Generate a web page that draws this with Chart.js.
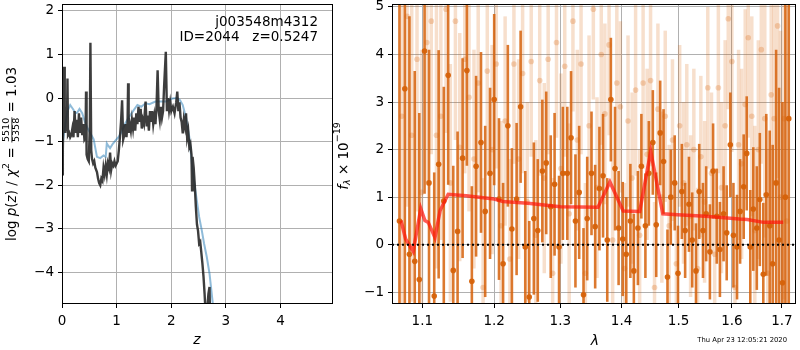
<!DOCTYPE html>
<html>
<head>
<meta charset="utf-8">
<script src="https://cdn.jsdelivr.net/npm/chart.js@4.4.1/dist/chart.umd.min.js"></script>
<style>
  html, body { margin: 0; padding: 0; background: #fff; }
  #wrap { position: relative; width: 800px; height: 350px; }
  #pzBox { position: absolute; left: 0; top: 0; width: 340px; height: 350px; }
  #specBox { position: absolute; left: 330px; top: 0; width: 470px; height: 350px; }
</style>
</head>
<body>
<div id="wrap">
  <div id="pzBox"><canvas id="pzChart"></canvas></div>
  <div id="specBox"><canvas id="specChart"></canvas></div>
</div>
<script>
// --- DATA: p(z) panel ---
const zTicks = [0, 1, 2, 3, 4];
const logpTicks = [-4, -3, -2, -1, 0, 1, 2];

const pzGridZ = [0.00, 0.015, 0.03, 0.04, 0.05, 0.06, 0.075, 0.09, 0.10, 0.11, 0.13, 0.15, 0.17, 0.19, 0.21, 0.23, 0.25, 0.27, 0.29, 0.31,
  0.33, 0.35, 0.37, 0.39, 0.41, 0.43, 0.44, 0.45, 0.47, 0.49, 0.51, 0.52, 0.535, 0.55, 0.57, 0.59, 0.61, 0.64, 0.66, 0.68,
  0.70, 0.72, 0.74, 0.76, 0.78, 0.80, 0.82, 0.84, 0.86, 0.88, 0.90, 0.92, 0.94, 0.96, 0.98, 1.00, 1.02, 1.04, 1.06, 1.08,
  1.10, 1.12, 1.14, 1.16, 1.18, 1.20, 1.21, 1.22, 1.24, 1.26, 1.28, 1.30, 1.32, 1.34, 1.36, 1.38, 1.40, 1.42, 1.44, 1.46,
  1.48, 1.50, 1.53, 1.55, 1.57, 1.59, 1.61, 1.63, 1.65, 1.67, 1.69, 1.71, 1.73, 1.75, 1.77, 1.79, 1.81, 1.83, 1.85, 1.87,
  1.90, 1.92, 1.94, 1.96, 1.98, 2.00, 2.03, 2.06, 2.09, 2.11, 2.13, 2.15, 2.17, 2.19, 2.21, 2.23, 2.25, 2.27, 2.29, 2.31,
  2.33, 2.35, 2.37, 2.38, 2.39, 2.41, 2.43, 2.45, 2.47, 2.49, 2.51, 2.53, 2.55, 2.57, 2.59, 2.61, 2.63, 2.66, 2.68, 2.70,
  2.71, 2.73];
const pzLogp = [-1.75, -1.2, 0.0, 0.72, -0.2, -0.8, -0.6, -0.75, 0.45, -0.85, -0.8, -0.9, -0.85, -0.7, -0.9, -0.3, -0.8, -0.5, -0.9, -0.35,
  -0.8, -0.45, -0.85, -0.6, -0.95, -0.9, 0.15, -1.3, -1.4, -1.45, -0.6, 1.27, -1.2, -1.4, -1.5, -1.45, -1.6, -1.7, -1.85, -1.95,
  -2.0, -1.85, -1.9, -1.6, -1.75, -1.55, -1.75, -1.5, -1.6, -1.25, -1.65, -1.5, -1.55, -1.45, -1.55, -1.5, -1.45, -1.2, -0.9, -0.55,
  -0.05, -0.95, -0.85, -0.6, -0.9, -0.55, 0.34, -0.8, -0.6, -0.75, -0.5, -0.7, -0.45, -0.75, -0.35, -0.6, -0.2, -0.55, -0.25, -0.7,
  -0.5, -0.6, -0.08, -0.65, -0.4, -0.75, -0.3, -0.55, -0.3, -0.6, -0.4, -0.6, -0.2, 0.64, -0.3, -0.5, -0.2, -0.45, -0.3, 0.3,
  1.06, -0.3, 0.0, -0.28, -0.1, -0.3, -0.2, -0.35, -0.1, 0.15, -0.3, -0.1, -0.45, -0.55, -0.81, -0.5, -0.65, -0.35, -0.9, -0.75,
  -1.12, -1.05, -1.3, -2.12, -1.35, -1.6, -2.0, -2.5, -2.9, -3.05, -3.34, -3.3, -3.55, -3.8, -4.1, -4.5, -5.0, -4.8, -4.5, -4.34,
  -5.0, -5.5];

const priorZ = [0.00, 0.02, 0.06, 0.10, 0.15, 0.20, 0.25, 0.28, 0.32, 0.37, 0.42, 0.47, 0.52, 0.58, 0.64, 0.70, 0.76, 0.80, 0.82, 0.85,
  0.88, 0.93, 0.98, 1.04, 1.10, 1.16, 1.22, 1.30, 1.38, 1.45, 1.53, 1.60, 1.71, 1.80, 1.90, 2.02, 2.11, 2.16, 2.21, 2.27,
  2.33, 2.39, 2.45, 2.51, 2.56, 2.60, 2.65, 2.70, 2.76, 2.80];
const priorLogp = [-1.0, -0.97, -0.6, -0.3, -0.16, -0.25, -0.35, -0.33, -0.25, -0.35, -0.55, -0.7, -0.81, -0.95, -1.35, -1.38, -1.32, -1.35, -1.04, -1.1,
  -1.15, -1.05, -0.97, -0.89, -0.75, -0.58, -0.45, -0.3, -0.16, -0.2, -0.12, -0.14, -0.08, -0.08, -0.08, -0.01, 0.0, -0.05, -0.16, -0.45,
  -0.89, -1.66, -2.2, -2.73, -3.05, -3.34, -3.65, -4.03, -4.72, -5.2];

// --- DATA: spectrum panel ---
const waveTicks = [1.1, 1.2, 1.3, 1.4, 1.5, 1.6, 1.7];
const fluxTicks = [-1, 0, 1, 2, 3, 4, 5];

const darkWave = [1.070, 1.077, 1.083, 1.090, 1.096, 1.103, 1.109, 1.116, 1.122, 1.129,
  1.135, 1.142, 1.148, 1.155, 1.161, 1.168, 1.174, 1.181, 1.187, 1.194,
  1.200, 1.207, 1.213, 1.220, 1.226, 1.233, 1.239, 1.246, 1.252, 1.259,
  1.265, 1.272, 1.278, 1.285, 1.291, 1.298, 1.304, 1.311, 1.317, 1.324,
  1.330, 1.337, 1.343, 1.350, 1.356, 1.363, 1.369, 1.376, 1.382, 1.389,
  1.395, 1.402, 1.408, 1.415, 1.421, 1.428, 1.434, 1.441, 1.447, 1.454,
  1.460, 1.467, 1.473, 1.480, 1.486, 1.493, 1.499, 1.506, 1.512, 1.519,
  1.525, 1.532, 1.538, 1.545, 1.551, 1.558, 1.564, 1.571, 1.577, 1.584,
  1.590, 1.597, 1.603, 1.610, 1.616, 1.623, 1.629, 1.636, 1.642, 1.649,
  1.655, 1.662, 1.668, 1.675, 1.681, 1.688, 1.694, 1.701, 1.707, 1.714];
const darkFlux = [0.5, 3.28, -0.2, -0.35, -0.73, 4.07, 1.3, -1.08, 1.69, 0.92,
  3.56, -0.54, 0.28, 1.82, 3.66, -0.77, 1.65, 2.15, 0.7, 1.5,
  3.05, 0.96, -0.4, 2.5, 0.33, 0.96, 2.9, -0.05, -1.1, 0.55,
  0.3, 1.55, 1.72, 0.8, 1.27, -0.05, 1.5, 1.5, 2.25, 0.5,
  1.1, -1.05, 0.55, 1.5, 0.38, 1.18, 1.45, 0.1, 3.05, 1.6,
  0.35, 0.12, -0.2, 0.5, -0.55, 0.35, 1.65, 0.4, 1.5, 2.15,
  0.42, 2.35, 1.75, -0.68, 1.0, 1.3, -0.6, 1.12, 0.3, 0.85,
  0.1, -0.55, 1.12, 0.3, 0.65, -0.15, 1.55, 0.6, -0.1, 0.65,
  0.25, 2.1, 0.2, -0.05, 0.7, 1.22, 1.92, -0.05, 0.75, 0.35,
  0.95, -0.62, 1.05, 0.4, -0.4, 1.3, 0.1, -0.8, 1.0, 2.65];
const darkErr = [6, 5, 5, 4, 3.5, 3, 2.8, 2.6, 2.4, 2.4,
  2.3, 2.2, 2.1, 2.1, 2.0, 2.0, 1.9, 1.9, 1.8, 1.8,
  1.8, 1.7, 1.7, 1.7, 1.7, 1.6, 1.6, 1.6, 1.6, 1.6,
  1.5, 1.5, 1.5, 1.5, 1.5, 1.5, 1.4, 1.4, 1.4, 1.4,
  1.4, 1.4, 1.3, 1.3, 1.3, 1.3, 1.3, 1.3, 1.3, 1.3,
  1.2, 1.2, 1.2, 1.2, 1.2, 1.2, 1.1, 1.1, 1.1, 1.1,
  1.1, 1.1, 1.1, 1.0, 1.0, 1.0, 1.0, 1.0, 1.0, 1.0,
  1.0, 1.0, 1.0, 1.0, 1.0, 1.0, 1.0, 1.0, 1.0, 1.0,
  1.0, 1.1, 1.1, 1.1, 1.1, 1.1, 1.2, 1.2, 1.3, 1.3,
  1.4, 1.5, 1.7, 2.0, 2.5, 2.8, 3.2, 3.8, 4.5, 6];

const lightWave = [1.073, 1.080, 1.086, 1.093, 1.099, 1.106, 1.112, 1.119, 1.125, 1.132,
  1.138, 1.145, 1.151, 1.158, 1.164, 1.171, 1.177, 1.184, 1.190, 1.197,
  1.203, 1.210, 1.216, 1.223, 1.229, 1.236, 1.242, 1.249, 1.255, 1.262,
  1.268, 1.275, 1.281, 1.288, 1.294, 1.301, 1.307, 1.314, 1.320, 1.327,
  1.333, 1.340, 1.346, 1.353, 1.359, 1.366, 1.372, 1.379, 1.385, 1.392,
  1.398, 1.405, 1.411, 1.418, 1.424, 1.431, 1.437, 1.444, 1.450, 1.457,
  1.463, 1.470, 1.476, 1.483, 1.489, 1.496, 1.502, 1.509, 1.515, 1.522,
  1.528, 1.535, 1.541, 1.548, 1.554, 1.561, 1.567, 1.574, 1.580, 1.587,
  1.593, 1.600, 1.606, 1.613, 1.619, 1.626, 1.632, 1.639, 1.645, 1.652,
  1.658, 1.665, 1.671, 1.678, 1.684, 1.691, 1.697, 1.704, 1.710];
const lightFlux = [2.7, 4.8, 2.3, 3.9, 1.1, 4.25, 4.7, 2.3, 2.7, 4.95,
  1.3, 4.7, 2.05, 3.9, 3.1, 1.8, 3.4, -0.9, 3.65, 2.0,
  3.8, 0.4, 2.6, -0.3, 3.8, 1.8, 3.6, 0.9, 3.85, 0.2,
  3.45, 1.4, 3.9, -0.6, 4.25, 1.6, 3.75, 0.65, 4.7, 2.2,
  3.8, -0.6, 2.5, 4.95, 1.2, 4.0, 2.75, 4.2, 0.1, 3.4,
  2.9, -0.5, 2.6, 1.4, 3.25, 0.2, 3.4, 1.9, 3.45, -0.9,
  2.85, 1.0, 2.7, 0.4, 2.2, -0.4, 2.5, 1.3, 2.1, 0.6,
  2.0, -0.5, 1.85, 0.9, 3.3, 1.5, -0.2, 3.3, 1.2, 2.5,
  4.75, 3.85, -0.9, 2.1, 1.7, 2.95, 4.35, 2.7, 0.3, 2.0,
  4.1, 2.65, -0.6, 3.15, 2.65, 4.6, 1.0, 2.65, 0.5];
const lightErr = [4, 4, 3.5, 3.2, 3.0, 3.0, 2.8, 2.8, 2.6, 2.6,
  2.5, 2.5, 2.4, 2.4, 2.4, 2.3, 2.3, 2.3, 2.2, 2.2,
  2.2, 2.2, 2.2, 2.1, 2.1, 2.1, 2.1, 2.1, 2.0, 2.0,
  2.0, 2.0, 2.0, 2.0, 2.0, 2.0, 1.9, 1.9, 1.9, 1.9,
  1.9, 1.9, 1.9, 1.9, 1.9, 1.9, 1.9, 1.9, 1.9, 1.8,
  1.8, 1.8, 1.8, 1.8, 1.8, 1.8, 1.8, 1.8, 1.8, 1.8,
  1.8, 1.8, 1.8, 1.7, 1.7, 1.7, 1.7, 1.7, 1.7, 1.7,
  1.7, 1.7, 1.7, 1.7, 1.7, 1.7, 1.8, 1.8, 1.8, 1.8,
  1.9, 1.9, 1.9, 2.0, 2.0, 2.0, 2.1, 2.1, 2.2, 2.3,
  2.4, 2.5, 2.6, 2.8, 3.0, 3.2, 3.5, 3.8, 4.5];

const modelWave = [1.072, 1.078, 1.088, 1.098, 1.1035, 1.108, 1.117, 1.124, 1.135, 1.16, 1.20, 1.2125, 1.25, 1.30, 1.3606,
  1.3804, 1.4028, 1.4311, 1.4503, 1.4717, 1.498, 1.55, 1.6148, 1.63, 1.6624, 1.7026];
const modelFlux = [0.51, 0.12, -0.14, 0.76, 0.51, 0.47, 0.15, 0.72, 1.06, 1.03, 0.96, 0.91, 0.87, 0.80, 0.79,
  1.32, 0.71, 0.70, 1.96, 0.65, 0.63, 0.60, 0.54, 0.53, 0.47, 0.47];

const zeroWave = [1.0604, 1.7291];
const zeroFlux = [0, 0];

// --- STYLE ---
const FONT = "'DejaVu Sans', sans-serif";
Chart.defaults.font.family = FONT;
Chart.defaults.font.size = 13.5;
Chart.defaults.color = '#000';

const GRID = '#b0b0b0';
const DARK_ORANGE = 'rgba(214,98,10,0.85)';
const LIGHT_ORANGE = 'rgba(217,95,2,0.2)';

function mplNum(v) {
  return v < 0 ? '\u2212' + Math.abs(v) : String(v);
}

function toPoints(xs, ys) {
  return xs.map((x, i) => ({ x: x, y: ys[i] }));
}

// fija los ticks y el tamaño del eje para que el área de trazado quede donde queremos
function fixedAxis(tickValues, size, horizontal) {
  return {
    afterBuildTicks(scale) {
      scale.ticks = tickValues.map(v => ({ value: v }));
    },
    afterFit(scale) {
      if (horizontal) scale.height = size; else scale.width = size;
      scale.paddingTop = 0; scale.paddingBottom = 0;
      scale.paddingLeft = 0; scale.paddingRight = 0;
    }
  };
}

function axisStyle() {
  return {
    grid: { color: GRID, lineWidth: 1, tickColor: '#000', tickLength: 4, drawTicks: true },
    border: { display: false }
  };
}

/**
 * Dibuja texto con partes (cursiva, subíndices, fracción) centrado en (0,0)
 */
function drawRich(ctx, parts) {
  const fontOf = p => (p.it ? 'italic ' : '') + p.s + 'px ' + FONT;
  let total = 0;
  parts.forEach(p => {
    ctx.font = fontOf(p);
    if (p.frac) {
      p.w = Math.max(ctx.measureText(p.frac[0]).width, ctx.measureText(p.frac[1]).width) + 2;
    } else {
      p.w = ctx.measureText(p.t).width;
    }
    total += p.w;
  });
  let x = -total / 2;
  ctx.textBaseline = 'middle';
  ctx.textAlign = 'left';
  ctx.fillStyle = '#000';
  parts.forEach(p => {
    ctx.font = fontOf(p);
    if (p.frac) {
      ctx.textAlign = 'center';
      ctx.fillText(p.frac[0], x + p.w / 2, -5.5);
      ctx.fillText(p.frac[1], x + p.w / 2, 5);
      ctx.fillRect(x + 0.5, -0.5, p.w - 1, 0.8);
      ctx.textAlign = 'left';
    } else {
      ctx.fillText(p.t, x, p.dy || 0);
    }
    x += p.w;
  });
}

const frameBox = {
  id: 'frameBox',
  afterDatasetsDraw(chart) {
    const { ctx, chartArea: a } = chart;
    ctx.save();
    ctx.strokeStyle = '#000';
    ctx.lineWidth = 1;
    ctx.strokeRect(Math.round(a.left) + 0.5, Math.round(a.top) + 0.5,
      Math.round(a.width) - 1, Math.round(a.height) - 1);
    ctx.restore();
  }
};

// barras de error verticales, dibujadas justo antes de los puntos de cada serie
const errorBars = {
  id: 'errorBars',
  beforeDatasetDraw(chart, args) {
    const ds = chart.data.datasets[args.index];
    if (!ds.yErr) return;
    const { ctx, chartArea: a, scales } = chart;
    const xs = scales.x, ys = scales.y;
    ctx.save();
    ctx.beginPath();
    ctx.rect(a.left, a.top, a.width, a.height);
    ctx.clip();
    ctx.strokeStyle = ds.errColor;
    ctx.lineWidth = ds.errWidth;
    ctx.lineCap = 'butt';
    ds.data.forEach((p, i) => {
      const px = xs.getPixelForValue(p.x);
      const y0 = ys.getPixelForValue(p.y - ds.yErr[i]);
      const y1 = ys.getPixelForValue(p.y + ds.yErr[i]);
      ctx.beginPath();
      ctx.moveTo(px, y0);
      ctx.lineTo(px, y1);
      ctx.stroke();
    });
    ctx.restore();
  }
};

// --- PANEL IZQUIERDO: p(z) ---
const pzText = {
  id: 'pzText',
  afterDraw(chart) {
    const ctx = chart.ctx;
    ctx.save();
    ctx.fillStyle = '#000';
    ctx.font = '13.5px ' + FONT;
    ctx.textAlign = 'right';
    ctx.textBaseline = 'middle';
    ctx.fillText('j003548m4312', 318, 22);
    ctx.fillText('ID=2044   z=0.5247', 318, 37);

    ctx.textAlign = 'center';
    ctx.font = 'italic 14px ' + FONT;
    ctx.fillText('z', 197, 340);

    ctx.translate(12, 154);
    ctx.rotate(-Math.PI / 2);
    drawRich(ctx, [
      { t: 'log ', s: 13.5 },
      { t: 'p', s: 13.5, it: true },
      { t: '(', s: 13.5 },
      { t: 'z', s: 13.5, it: true },
      { t: ') / ', s: 13.5 },
      { t: 'χ', s: 13.5, it: true },
      { t: '2', s: 9.5, dy: -5 },
      { t: ' = ', s: 13.5 },
      { frac: ['5510', '5358'], s: 9.5 },
      { t: ' = 1.03', s: 13.5 }
    ]);
    ctx.restore();
  }
};

new Chart(document.getElementById('pzChart'), {
  type: 'line',
  data: {
    datasets: [
      {
        data: toPoints(pzGridZ, pzLogp),
        borderColor: 'rgba(40,40,40,0.9)',
        borderWidth: 2.4,
        pointRadius: 0,
        tension: 0,
        order: 0
      },
      {
        data: toPoints(priorZ, priorLogp),
        borderColor: 'rgba(31,119,180,0.5)',
        borderWidth: 2,
        pointRadius: 0,
        tension: 0,
        order: 1
      }
    ]
  },
  options: {
    responsive: true,
    maintainAspectRatio: false,
    animation: false,
    devicePixelRatio: 1,
    layout: { padding: { left: 0, right: 7, top: 4, bottom: 0 } },
    plugins: { legend: { display: false }, tooltip: { enabled: false } },
    scales: {
      x: Object.assign(axisStyle(), {
        type: 'linear', min: 0, max: 4.96,
        ticks: { padding: 5, autoSkip: false, maxRotation: 0, callback: v => mplNum(v) }
      }, fixedAxis(zTicks, 46, true)),
      y: Object.assign(axisStyle(), {
        type: 'linear', min: -4.73, max: 2.16,
        ticks: { padding: 4, autoSkip: false, callback: v => mplNum(v) }
      }, fixedAxis(logpTicks, 62, false))
    }
  },
  plugins: [frameBox, pzText]
});

// --- PANEL DERECHO: espectro ---
const specText = {
  id: 'specText',
  afterDraw(chart) {
    const ctx = chart.ctx;
    ctx.save();
    ctx.fillStyle = '#000';
    ctx.textAlign = 'center';
    ctx.textBaseline = 'middle';
    ctx.font = 'italic 14px ' + FONT;
    ctx.fillText('λ', 265, 341);

    ctx.font = '6.8px ' + FONT;
    ctx.textAlign = 'right';
    ctx.fillText('Thu Apr 23 12:05:21 2020', 457, 340);

    ctx.translate(14, 156);
    ctx.rotate(-Math.PI / 2);
    drawRich(ctx, [
      { t: 'f', s: 13.5, it: true },
      { t: 'λ', s: 9.5, it: true, dy: 4 },
      { t: ' × 10', s: 13.5 },
      { t: '\u221219', s: 9.5, dy: -6 }
    ]);
    ctx.restore();
  }
};

new Chart(document.getElementById('specChart'), {
  type: 'line',
  data: {
    datasets: [
      {
        data: toPoints(lightWave, lightFlux),
        yErr: lightErr, errColor: LIGHT_ORANGE, errWidth: 3.5,
        showLine: false,
        pointRadius: 2.8,
        pointBorderWidth: 0,
        pointBackgroundColor: 'rgba(217,95,2,0.25)',
        order: 3
      },
      {
        data: toPoints(darkWave, darkFlux),
        yErr: darkErr, errColor: DARK_ORANGE, errWidth: 2.6,
        showLine: false,
        pointRadius: 2.8,
        pointBorderWidth: 0,
        pointBackgroundColor: 'rgba(214,98,10,0.95)',
        order: 2
      },
      {
        data: toPoints(modelWave, modelFlux),
        borderColor: 'rgba(255,20,10,0.7)',
        borderWidth: 3.5,
        pointRadius: 0,
        tension: 0,
        order: 1
      },
      {
        data: toPoints(zeroWave, zeroFlux),
        borderColor: '#000',
        borderWidth: 2,
        borderDash: [2, 3],
        pointRadius: 0,
        order: 0
      }
    ]
  },
  options: {
    responsive: true,
    maintainAspectRatio: false,
    animation: false,
    devicePixelRatio: 1,
    layout: { padding: { left: 0, right: 1, top: 4, bottom: 0 } },
    plugins: { legend: { display: false }, tooltip: { enabled: false } },
    scales: {
      x: Object.assign(axisStyle(), {
        type: 'logarithmic', min: 1.0604, max: 1.7291,
        ticks: { padding: 5, autoSkip: false, maxRotation: 0, callback: v => Number(v).toFixed(1) }
      }, fixedAxis(waveTicks, 46, true)),
      y: Object.assign(axisStyle(), {
        type: 'linear', min: -1.246, max: 5.06,
        ticks: { padding: 4, autoSkip: false, callback: v => mplNum(v) }
      }, fixedAxis(fluxTicks, 62, false))
    }
  },
  plugins: [frameBox, errorBars, specText]
});
</script>
</body>
</html>
